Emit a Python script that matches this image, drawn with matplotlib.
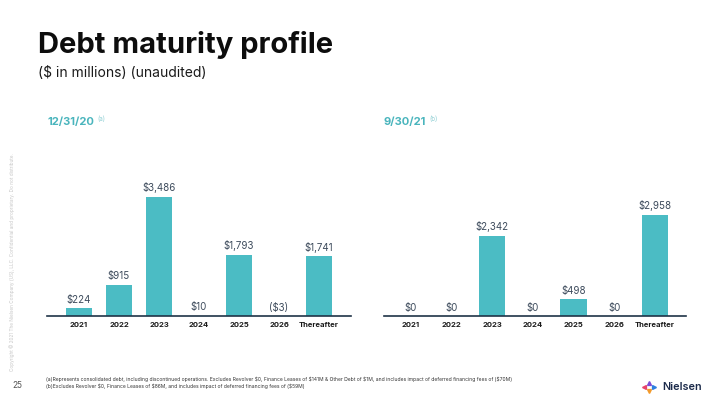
import numpy as np
import matplotlib.pyplot as plt
from matplotlib.lines import Line2D

plt.rcParams['font.family'] = ['Inter', 'DejaVu Sans']

# data
years = ['2021', '2022', '2023', '2024', '2025', '2026', 'Thereafter']
debt_dec20 = [224, 915, 3486, 10, 1793, -3, 1741]
labels_dec20 = ['$224', '$915', '$3,486', '$10', '$1,793', '($3)', '$1,741']
debt_sep21 = [0, 0, 2342, 0, 498, 0, 2958]
labels_sep21 = ['$0', '$0', '$2,342', '$0', '$498', '$0', '$2,958']

teal = '#4bbcc4'
navy = '#1f3347'
text_col = '#3d4b5c'

fig = plt.figure(figsize=(7.2, 4.05), dpi=100)
W, H = 720, 405


def px(x0, y0, x1, y1):
    # pixel box (top-left origin) -> figure fraction rect
    return [x0 / W, 1 - y1 / H, (x1 - x0) / W, (y1 - y0) / H]


def draw_panel(ax, values, labels, xlim):
    x = np.arange(len(values))
    ax.bar(x, np.clip(values, 0, None), width=0.65, color=teal, zorder=2)
    for xi, v, lab in zip(x, values, labels):
        ax.annotate(lab, (xi, max(v, 0)), xytext=(0, 2.5),
                    textcoords='offset points', ha='center', va='bottom',
                    fontsize=7, color=text_col, parse_math=False)
    ax.set_xlim(*xlim)
    ax.set_ylim(0, 4270)
    ax.set_xticks(x)
    ax.set_xticklabels(years, fontsize=5.5, fontweight='bold', color='#1a1a1a')
    ax.tick_params(axis='x', length=0, pad=4)
    ax.set_yticks([])
    for s in ['top', 'right', 'left']:
        ax.spines[s].set_visible(False)
    ax.spines['bottom'].set_color(navy)
    ax.spines['bottom'].set_linewidth(1.2)


ax1 = fig.add_axes(px(47, 170, 351, 316))
draw_panel(ax1, debt_dec20, labels_dec20, (-0.8, 6.8))

ax2 = fig.add_axes(px(384, 170, 686, 316))
draw_panel(ax2, debt_sep21, labels_sep21, (-0.66, 6.76))

# titles
fig.text(38 / W, 1 - 45 / H, 'Debt maturity profile', fontsize=21,
         fontweight='bold', color='#0d0d0d', va='center')
fig.text(38 / W, 1 - 73 / H, '($ in millions) (unaudited)', fontsize=10,
         color='#1a1a1a', va='center', parse_math=False)

# panel headers
fig.text(47 / W, 1 - 122 / H, '12/31/20', fontsize=8, fontweight='bold',
         color='#4ab5bd', va='center')
fig.text(97 / W, 1 - 119 / H, '(a)', fontsize=4.5, color='#8fcfd4', va='center')
fig.text(384 / W, 1 - 122 / H, '9/30/21', fontsize=8, fontweight='bold',
         color='#4ab5bd', va='center')
fig.text(429 / W, 1 - 119 / H, '(b)', fontsize=4.5, color='#8fcfd4', va='center')

# footnotes
fig.text(46 / W, 1 - 379 / H,
         '(a)Represents consolidated debt, including discontinued operations. '
         'Excludes Revolver $0, Finance Leases of $141M & Other Debt of $1M, '
         'and includes impact of deferred financing fees of ($70M)',
         fontsize=3.6, color='#333333', va='center', parse_math=False)
fig.text(46 / W, 1 - 386 / H,
         '(b)Excludes Revolver $0, Finance Leases of $86M, and includes impact '
         'of deferred financing fees of ($59M)',
         fontsize=3.6, color='#333333', va='center', parse_math=False)

# page number and side copyright
fig.text(12 / W, 1 - 386 / H, '25', fontsize=6, color='#555555', va='center')
fig.text(12 / W, 1 - 262 / H,
         'Copyright \u00a9 2021 The Nielsen Company (US), LLC. '
         'Confidential and proprietary. Do not distribute.',
         fontsize=3.4, color='#c8c8c8', rotation=90, ha='center', va='center')

# Nielsen logo
fig.text(662 / W, 1 - 387 / H, 'Nielsen', fontsize=7.8, fontweight='semibold',
         color='#1b2a4a', va='center')
logo = [(644, 387, '#e8446a', '<'), (649, 383, '#7d4bd6', '^'),
        (649, 391, '#f39a2b', 'v'), (654, 387, '#2e7fe0', '>')]
for lx, ly, c, m in logo:
    fig.add_artist(Line2D([lx / W], [1 - ly / H], marker=m, color=c,
                          markersize=2.8, linestyle='none'))

fig.savefig('out.png', dpi=100)
